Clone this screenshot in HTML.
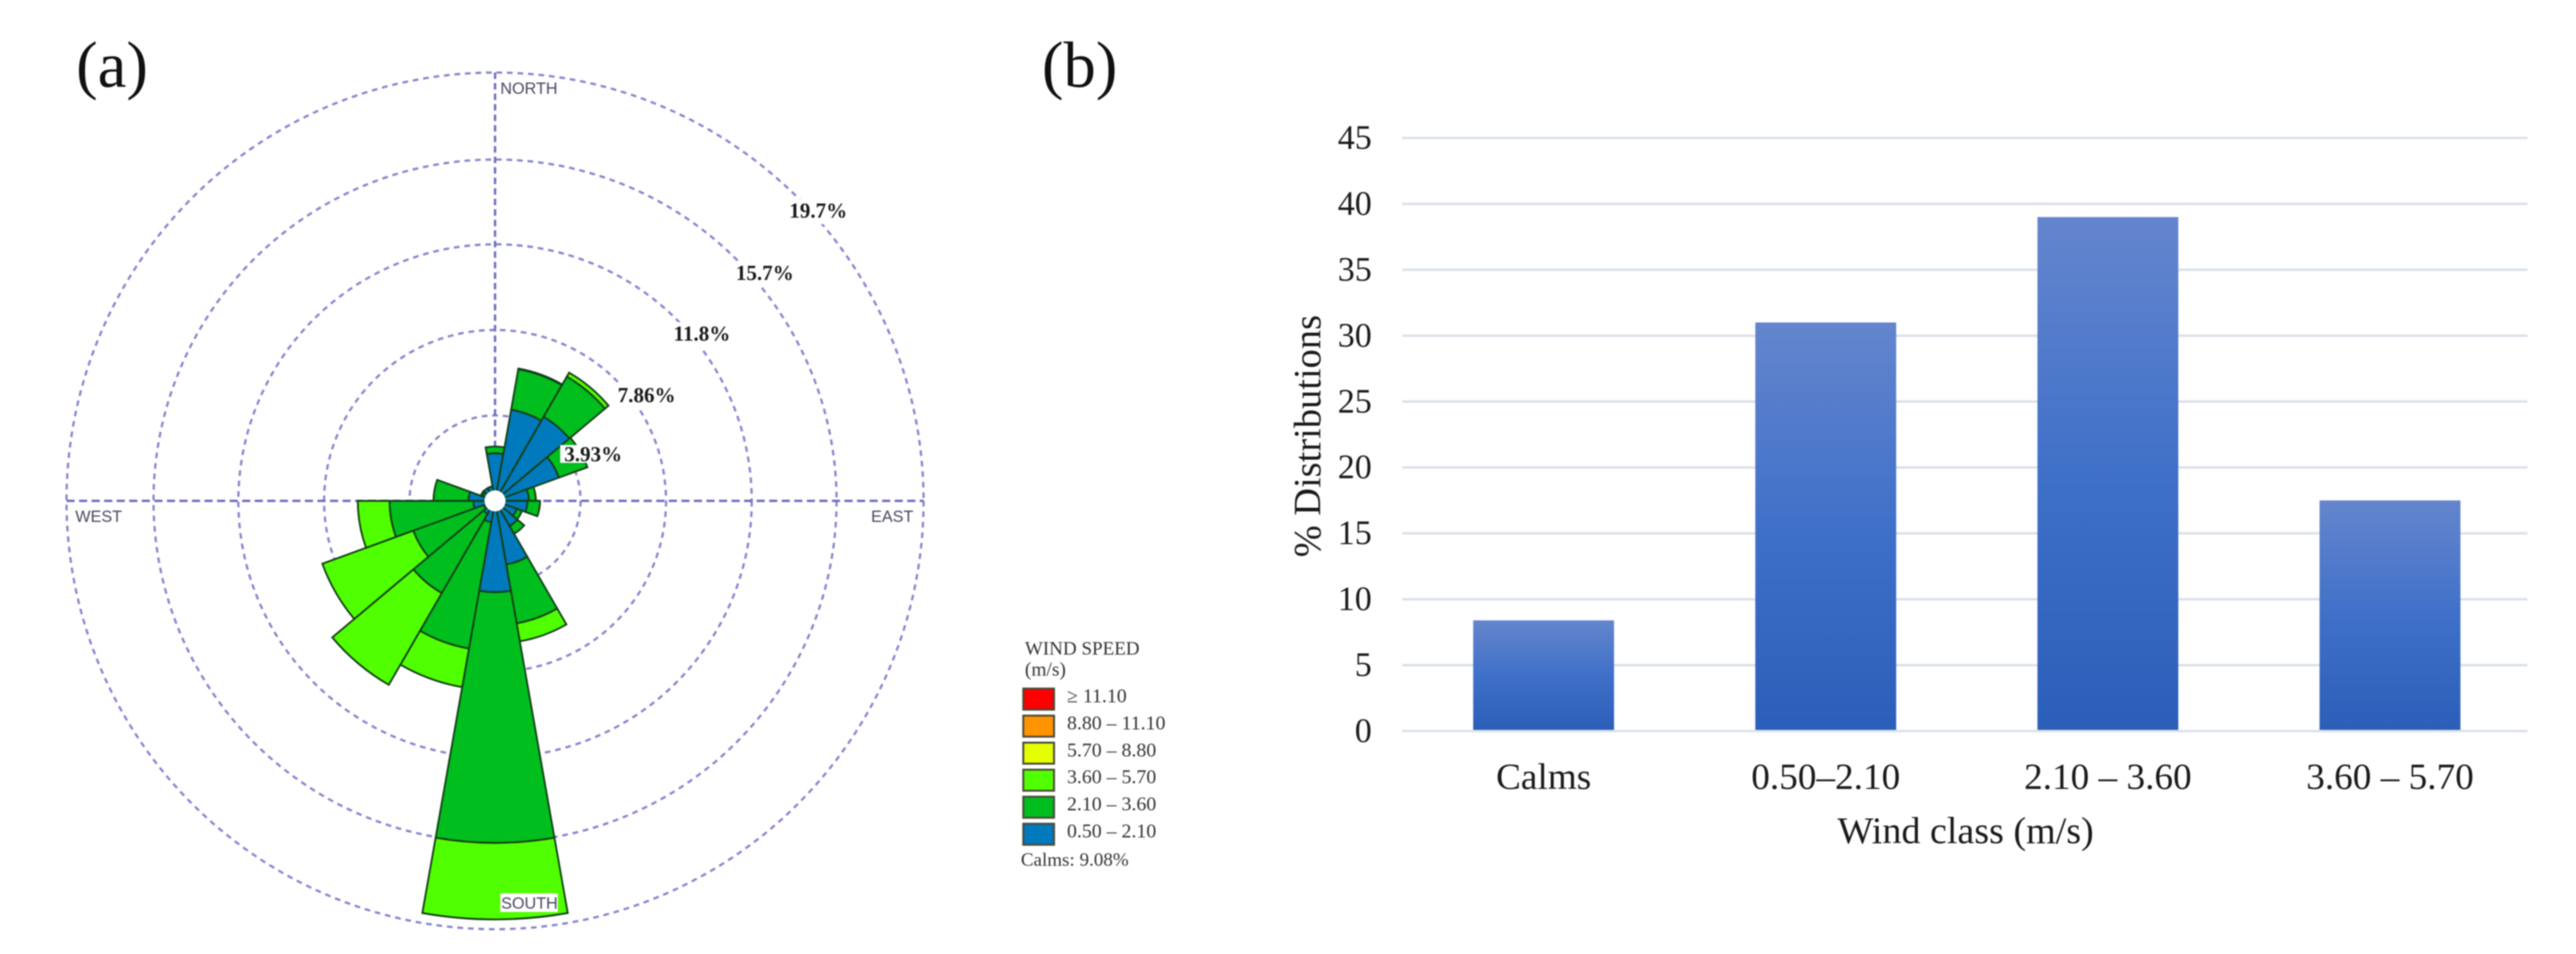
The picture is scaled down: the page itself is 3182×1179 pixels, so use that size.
<!DOCTYPE html>
<html lang="en">
<head>
<meta charset="utf-8">
<title>Wind rose and wind class distribution</title>
<style>
html,body{margin:0;padding:0;background:#fff;width:3182px;height:1179px;overflow:hidden}
svg{display:block;filter:blur(0.9px)}
text{font-family:"Liberation Serif",serif}
</style>
</head>
<body>
<svg id="fig" xmlns="http://www.w3.org/2000/svg" width="3182" height="1179" viewBox="0 0 3182 1179">
  <defs>
    <linearGradient id="barGrad" x1="0" y1="0" x2="0" y2="1">
      <stop offset="0" stop-color="#6485cd"/>
      <stop offset="0.5" stop-color="#3f70c8"/>
      <stop offset="1" stop-color="#2b5eb8"/>
    </linearGradient>
  </defs>
  <rect width="3182" height="1179" fill="#fff"/>
  <text x="94" y="107" font-size="80" fill="#111">(a)</text>
  <text x="1287" y="107" font-size="80" fill="#111">(b)</text>
  <g id="rose"></g>
  <g id="legend" fill="#333">
    <text x="1266" y="809" font-size="23.5">WIND SPEED</text>
    <text x="1266" y="835" font-size="24">(m/s)</text>
    <text x="1261" y="1070" font-size="23.5">Calms: 9.08%</text>
  </g>
  <g id="bars"></g>
</svg>
<script>
/* ---------- wind rose data (percent of time, per speed class, per direction) ---------- */
const directions = [0,20,40,60,80,100,120,140,160,180,200,220,240,260,280,300,320,340];
const class05to21 = [2.19,4.26,4.46,3.13,1.55,1.49,1.07,1.34,2.97,4.2,1.0,0.7,0.55,1.0,1.22,0.6,0.68,0.68];
const class21to36 = [0.31,1.89,2.14,1.39,0.33,0.58,0.25,0.41,2.75,11.53,5.9,4.2,3.45,3.85,1.61,0.1,0,0];
const class36to57 = [0,0.03,0.21,0,0,0,0,0,0.84,3.52,1.8,4.87,4.45,1.46,0,0,0,0];
const ringValues = [3.93,7.86,11.8,15.7,19.7];
const ringLabels = ["3.93%","7.86%","11.8%","15.7%","19.7%"];
const legendLabels = ["\u2265 11.10","8.80 \u2013 11.10","5.70 \u2013 8.80","3.60 \u2013 5.70","2.10 \u2013 3.60","0.50 \u2013 2.10"];
const legendColors = ["#ff0000","#ff9400","#e4ff00","#50ff00","#00be1e","#0079bd"];
/* ---------- bar chart data ---------- */
const windClasses = ["Calms","0.50\u20132.10","2.10 \u2013 3.60","3.60 \u2013 5.70"];
const distribution = [8.4,31,39,17.5];
const yTicks = [0,5,10,15,20,25,30,35,40,45];

const NS = "http://www.w3.org/2000/svg";
function make(tag, parent, attrs){
  const n = document.createElementNS(NS, tag);
  for (const k in attrs) n.setAttribute(k, attrs[k]);
  parent.appendChild(n);
  return n;
}

/* ---------- rose ---------- */
const rose = document.getElementById("rose");
const cx = 611.5, cy = 619;
const pxPerPercent = 105.6 / 3.93;
const sectorWidth = 20;
function rScale(p){ return p * pxPerPercent; }
function polar(p, deg){
  const a = deg * Math.PI / 180;
  return [cx + rScale(p) * Math.sin(a), cy - rScale(p) * Math.cos(a)];
}
function wedge(p0, p1, center){
  const a0 = center - sectorWidth / 2, a1 = center + sectorWidth / 2;
  const A = polar(p0, a0), B = polar(p1, a0), C = polar(p1, a1), D = polar(p0, a1);
  const R1 = rScale(p1), R0 = rScale(p0);
  return "M" + A[0] + " " + A[1] + "L" + B[0] + " " + B[1] +
    "A" + R1 + " " + R1 + " 0 0 1 " + C[0] + " " + C[1] +
    "L" + D[0] + " " + D[1] +
    "A" + R0 + " " + R0 + " 0 0 0 " + A[0] + " " + A[1] + "Z";
}

ringValues.forEach(function(v){
  const ring = make("circle", rose, {cx:cx, cy:cy, r:rScale(v), fill:"none", stroke:"#8686ce", "stroke-width":2.8, "stroke-dasharray":"7 6"});
  
  
});
const outerP = ringValues[ringValues.length - 1];
const hAxis = make("line", rose, {x1:polar(outerP,270)[0], y1:cy, x2:polar(outerP,90)[0], y2:cy, stroke:"#7070c2", "stroke-width":3, "stroke-dasharray":"10 5.5"});


const vAxis = make("line", rose, {x1:cx, y1:polar(outerP,0)[1], x2:cx, y2:cy, stroke:"#7070c2", "stroke-width":3, "stroke-dasharray":"8 5"});



directions.forEach(function(dir, i){
  let base = 0;
  const bands = [[class05to21[i],"#0079bd"],[class21to36[i],"#00be1e"],[class36to57[i],"#50ff00"]];
  bands.forEach(function(b){
    if (b[0] <= 0) return;
    const w = make("path", rose, {d:wedge(base, base + b[0], dir), fill:b[1], stroke:"#123f14", "stroke-width":2.2, "stroke-linejoin":"miter"});
    
    
    base += b[0];
  });
});
const hub = make("circle", rose, {cx:cx, cy:cy, r:13, fill:"#fff"});



const ringLabelX = [697,763,832,909,975];
const ringLabelBase = [570,497,421,346,269];
ringLabels.forEach(function(t, i){
  const bg = make("rect", rose, {x:ringLabelX[i]-5, y:ringLabelBase[i]-(i === 0 ? 20 : 23), width:76, height:(i === 0 ? 22 : 31), fill:"#fff"});
  
  
  const lab = make("text", rose, {x:ringLabelX[i], y:ringLabelBase[i], "font-size":26, "font-weight":"bold", fill:"#1a1a1a"});
  lab.textContent = t;
  
  
});
const compass = [["NORTH",618,116],["WEST",93,645],["EAST",1076,645],["SOUTH",619,1123]];
compass.forEach(function(c){
  if (c[0] === "SOUTH"){
    const sb = make("rect", rose, {x:618, y:1104, width:71, height:23, fill:"#fff"});
    
    
  }
  const t = make("text", rose, {x:c[1], y:c[2], "font-size":20, fill:"#484860", style:"font-family:'Liberation Sans',sans-serif"});
  t.textContent = c[0];
  
  
});

/* ---------- legend ---------- */
const legend = document.getElementById("legend");
legendLabels.forEach(function(label, i){
  const top = 851 + i * 33.4;
  const sw = make("rect", legend, {x:1264, y:top, width:38, height:26, fill:legendColors[i], stroke:"#4a4a3a", "stroke-width":2.4});
  
  
  const t = make("text", legend, {x:1318, y:top + 17, "font-size":24.5});
  t.textContent = label;
  
  
});

/* ---------- bar chart ---------- */
const bars = document.getElementById("bars");
const plotLeft = 1732, plotRight = 3122, y0 = 903.5, y45 = 170.5;
function yScale(v){ return y0 - (v / 45) * (y0 - y45); }
const bandStart = 1732.5, bandStep = 348.5, barW = 174;
function xBand(i){ return bandStart + bandStep * (i + 0.5); }

yTicks.forEach(function(v){
  const g = make("line", bars, {x1:plotLeft, x2:plotRight, y1:yScale(v), y2:yScale(v), stroke:"#dbe1ea", "stroke-width":3});
  
  
  const t = make("text", bars, {x:1694.5, y:yScale(v) + 13.5, "text-anchor":"end", "font-size":42, fill:"#1a1a1a"});
  t.textContent = v;
  
  
});
distribution.forEach(function(v, i){
  const b = make("rect", bars, {x:xBand(i) - barW / 2, y:yScale(v), width:barW, height:yScale(0) - yScale(v) - 1.5, fill:"url(#barGrad)"});
  
  
});
windClasses.forEach(function(c, i){
  const t = make("text", bars, {x:xBand(i), y:975, "text-anchor":"middle", "font-size":46, fill:"#1a1a1a"});
  t.textContent = c;
  
  
});
const xTitle = make("text", bars, {x:2428, y:1042, "text-anchor":"middle", "font-size":47, fill:"#1a1a1a"});
xTitle.textContent = "Wind class (m/s)";


const yTitle = make("text", bars, {x:0, y:0, transform:"translate(1631,539) rotate(-90)", "text-anchor":"middle", "font-size":47.5, fill:"#1a1a1a"});
yTitle.textContent = "% Distributions";


</script>
</body>
</html>
